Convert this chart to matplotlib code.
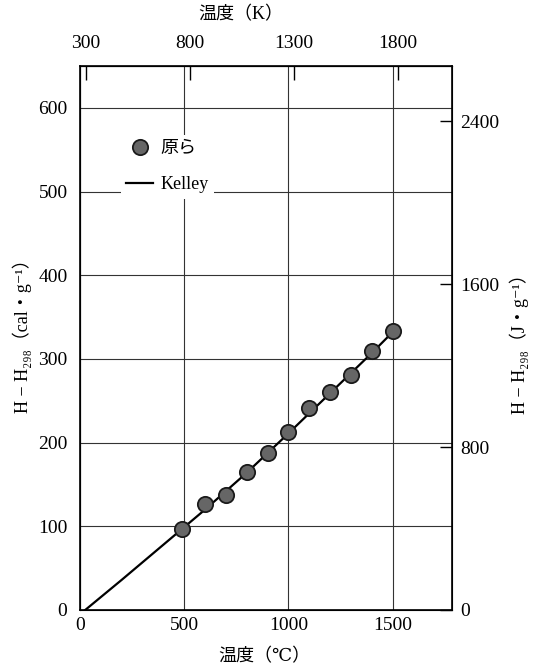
import matplotlib
matplotlib.use('Agg')
from matplotlib import pyplot as plt
from matplotlib.lines import Line2D

plt.rcParams['font.family'] = ['Liberation Serif', 'DejaVu Serif', 'Noto Sans CJK JP']

# measured data (Hara et al.) and Kelley curve, degC vs cal/g
temp_c = [490, 600, 700, 800, 900, 1000, 1100, 1200, 1300, 1400, 1500]
h_cal = [97, 127, 138, 165, 188, 213, 241, 260, 281, 309, 333]
kelley_c = [25, 200, 400, 600, 800, 1000, 1200, 1400, 1500]
kelley_h = [0, 36, 78, 120, 164, 211, 259, 307, 332]

x_ticks = [0, 500, 1000, 1500]
y_ticks = [0, 100, 200, 300, 400, 500, 600]
k_ticks = [300, 800, 1300, 1800]
j_ticks = [0, 800, 1600, 2400]

fig = plt.figure(figsize=(5.37, 6.68), dpi=100)
ax = fig.add_axes([80 / 537, 1 - 610 / 668, 372 / 537, 544 / 668])

ax.plot(kelley_c, kelley_h, color='black', lw=1.6, zorder=3)
ax.plot(temp_c, h_cal, 'o', ms=11, mfc='#666666', mec='#1a1a1a', mew=1.3, zorder=4)

ax.set_xlim(0, 1785)
ax.set_ylim(0, 650)
ax.set_xticks(x_ticks)
ax.set_yticks(y_ticks)
ax.grid(True, color='#333333', lw=0.8)
ax.tick_params(axis='both', length=0, labelsize=14)
ax.tick_params(axis='y', pad=9)
ax.tick_params(axis='x', pad=5)
for s in ax.spines.values():
    s.set_linewidth(1.2)

# top axis in kelvin
top = ax.secondary_xaxis('top', functions=(lambda c: c + 273, lambda k: k - 273))
top.set_xticks(k_ticks)
top.tick_params(direction='in', length=10, width=1, labelsize=14, pad=10)

# right axis in J/g
right = ax.twinx()
right.set_ylim(0, 2670)
right.set_yticks(j_ticks)
right.tick_params(direction='in', length=9, width=1, labelsize=14, pad=6)

handles = [Line2D([], [], ls='none', marker='o', ms=11, mfc='#666666', mec='#1a1a1a', mew=1.3),
           Line2D([], [], color='black', lw=1.6)]
leg = ax.legend(handles, ['原ら', 'Kelley'], loc='upper left', bbox_to_anchor=(0.085, 0.89),
                frameon=True, fancybox=False, facecolor='white', edgecolor='none', framealpha=1,
                fontsize=13, handlelength=1.5, handletextpad=0.4, labelspacing=1.05,
                borderpad=0.3)
leg.set_zorder(5)

fig.text(264 / 537, 1 - 657 / 668, '温度（℃）', ha='center', va='center', fontsize=13)
fig.text(241 / 537, 1 - 15 / 668, '温度（K）', ha='center', va='center', fontsize=13)
fig.text(22 / 537, 1 - 332 / 668, 'H − H₂₉₈（cal・g⁻¹）', rotation=90, ha='center', va='center', fontsize=13)
fig.text(519 / 537, 1 - 340 / 668, 'H − H₂₉₈（J・g⁻¹）', rotation=90, ha='center', va='center', fontsize=13)

plt.savefig('out.png', dpi=100)
